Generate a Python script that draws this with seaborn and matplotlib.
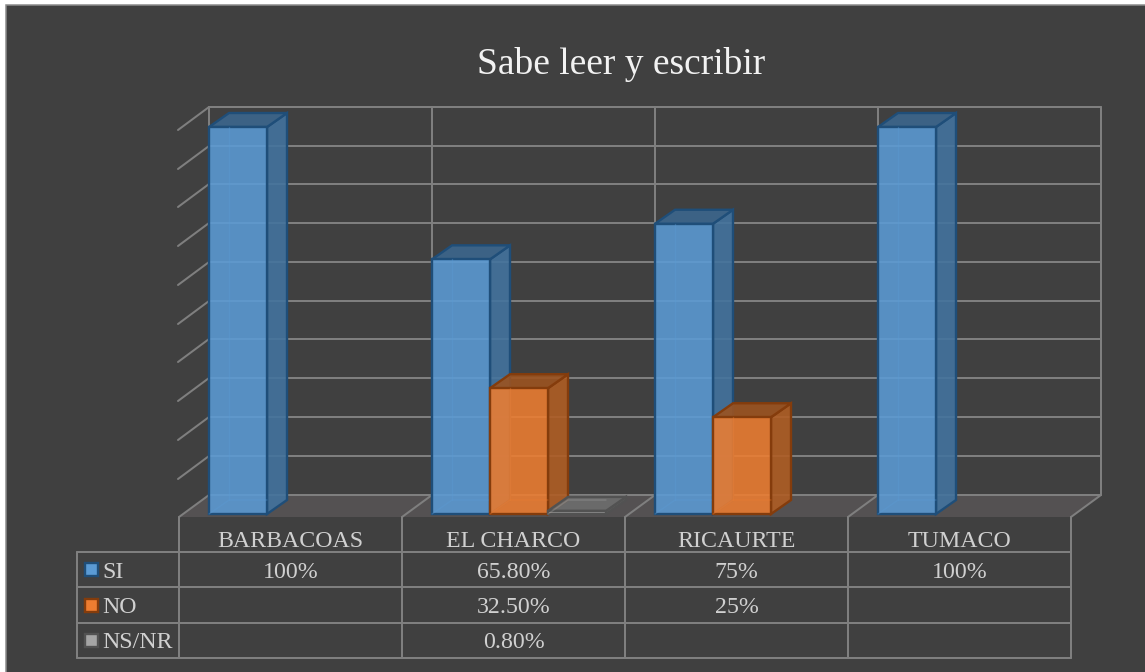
import matplotlib
matplotlib.use("Agg")
import matplotlib.pyplot as plt
import pandas as pd
import seaborn as sns
from matplotlib.patches import Polygon, Rectangle

categories = ["BARBACOAS", "EL CHARCO", "RICAURTE", "TUMACO"]
series_names = ["SI", "NO", "NS/NR"]
si_values = [100, 65.8, 75, 100]
no_values = [None, 32.5, 25, None]
nsnr_values = [None, 0.8, None, None]
si_labels = ["100%", "65.80%", "75%", "100%"]
no_labels = ["", "32.50%", "25%", ""]
nsnr_labels = ["", "0.80%", "", ""]

BG = "#404040"
LINE = "#7f7f7f"
TEXT = "#d0d0d0"
colors = {"SI": "#5b9bd5", "NO": "#ed7d31", "NS/NR": "#a5a5a5"}
edges = {"SI": "#1f4e79", "NO": "#843c0c", "NS/NR": "#525252"}

sns.set_theme(style="white")
plt.rcParams['font.family'] = ['Liberation Serif', 'DejaVu Serif']

rows = []
for name, vals in zip(series_names, [si_values, no_values, nsnr_values]):
    for cat, v in zip(categories, vals):
        if v is not None:
            rows.append({"zona": cat, "serie": name, "valor": v})
df = pd.DataFrame(rows)

fig = plt.figure(figsize=(11.45, 6.72), dpi=100, facecolor="white")

# furniture in pixel coordinates, below the bars
bg = fig.add_axes([0, 0, 1, 1], zorder=0)
bg.set_xlim(0, 1145)
bg.set_ylim(672, 0)
bg.axis("off")
bg.add_patch(Rectangle((6, 5), 1160, 690, fc=BG, ec="#8c8c8c", lw=1.1))

lw = 1.45
bg.add_patch(Polygon([(179, 517), (209, 495), (1101, 495), (1071, 517)],
                     fc="#545152", ec="none"))
wall_x = [209, 432, 655, 878, 1101]
grid_y = [107, 146, 184, 223, 262, 301, 339, 378, 417, 456, 495]
for x in wall_x:
    bg.plot([x, x], [107, 495], color=LINE, lw=lw)
for y in grid_y:
    bg.plot([209, 1101], [y, y], color=LINE, lw=lw)
for y in grid_y[:-1]:
    bg.plot([178, 209], [y + 23, y], color=LINE, lw=lw)
for x in wall_x:
    bg.plot([x - 30, x], [517, 495], color=LINE, lw=lw)

# data table under the plot
col_x = [179, 402, 625, 848, 1071]
row_y = [552, 587, 623, 658]
for x in col_x:
    bg.plot([x, x], [517, 658], color=LINE, lw=lw)
bg.plot([76.5, 76.5], [552, 658], color=LINE, lw=lw)
for y in row_y:
    bg.plot([76.5, 1071], [y, y], color=LINE, lw=lw)

for i, cat in enumerate(categories):
    cx = (col_x[i] + col_x[i + 1]) / 2
    bg.text(cx, 539, cat, ha="center", va="center_baseline", fontsize=17.2, color=TEXT)
table = [si_labels, no_labels, nsnr_labels]
for r, (name, labels) in enumerate(zip(series_names, table)):
    cy = (row_y[r] + row_y[r + 1]) / 2
    bg.add_patch(Rectangle((84.5, cy - 6.5), 13, 13, fc=colors[name], ec=edges[name], lw=1.7))
    bg.text(102, cy, name, ha="left", va="center_baseline", fontsize=17.2, color=TEXT)
    for i, lab in enumerate(labels):
        cx = (col_x[i] + col_x[i + 1]) / 2
        bg.text(cx, cy, lab, ha="center", va="center_baseline", fontsize=17.2, color=TEXT)

bg.text(621, 60, "Sabe leer y escribir", ha="center", va="center_baseline",
        fontsize=27, color="#f2f2f2")

# bars on data scale
ax = fig.add_axes([0, 0, 1, 1], zorder=1)
sns.barplot(data=df, x="zona", y="valor", hue="serie", order=categories,
            hue_order=series_names, palette=colors, width=0.78, gap=0, saturation=1,
            dodge=True, legend=False, ax=ax)
PX_X = 223.0
PX_Y = 3.87
ax.set_xlim(-296 / PX_X, (1145 - 296) / PX_X)
ax.set_ylim((514 - 672) / PX_Y, 514 / PX_Y)
ax.axis("off")
ax.patch.set_alpha(0)

dx = 20 / PX_X
dy = 14 / PX_Y
pairs = []
for name, cont in zip(series_names, ax.containers):
    for bar in cont:
        if bar.get_height() > 0:
            pairs.append((bar, name))
pairs.sort(key=lambda p: p[0].get_x())

for k, (bar, name) in enumerate(pairs):
    x0, w, h = bar.get_x(), bar.get_width(), bar.get_height()
    rgb = bar.get_facecolor()[:3]
    edge = edges[name]
    z = 2 + 2 * k
    side = tuple(c * 0.74 for c in rgb)
    top = tuple(c * 0.66 for c in rgb)
    # faint back edges seen through the bar
    if h > dy:
        ax.plot([x0 + dx, x0 + dx], [dy, h], color=rgb, lw=1, alpha=0.35, zorder=z + 1.5)
    ax.plot([x0, x0 + dx, x0 + w], [0, dy, dy], color=rgb, lw=1, alpha=0.35, zorder=z + 1.5)
    ax.add_patch(Polygon([(x0 + w, 0), (x0 + w + dx, dy), (x0 + w + dx, h + dy), (x0 + w, h)],
                         fc=side + (0.9,), ec=edge, lw=1.7, zorder=z))
    ax.add_patch(Polygon([(x0, h), (x0 + dx, h + dy), (x0 + w + dx, h + dy), (x0 + w, h)],
                         fc=top + (0.9,), ec=edge, lw=1.7, zorder=z))
    bar.set_facecolor(tuple(rgb) + (0.88,))
    bar.set_edgecolor(edge)
    bar.set_linewidth(1.7)
    bar.set_zorder(z + 1)

fig.savefig("out.png", dpi=100)
